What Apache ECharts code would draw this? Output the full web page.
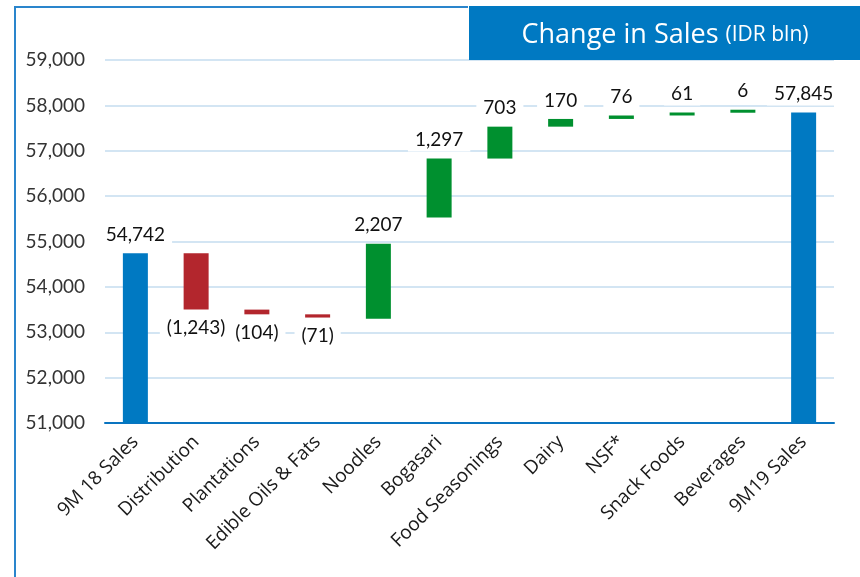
<!DOCTYPE html>
<html>
<head>
<meta charset="utf-8">
<script src="https://cdn.jsdelivr.net/npm/echarts@6/dist/echarts.min.js"></script>
<style>
  html, body { margin: 0; padding: 0; background: #fff; }
  #chart { width: 860px; height: 577px; }
</style>
</head>
<body>
<div id="chart"></div>
<script>
// categories along the x axis
var categories = ['9M 18 Sales', 'Distribution', 'Plantations', 'Edible Oils & Fats', 'Noodles',
	'Bogasari', 'Food Seasonings', 'Dairy', 'NSF*', 'Snack Foods', 'Beverages', '9M19 Sales'];
// value shown in each label (IDR bln)
var changes = [54742, -1243, -104, -71, 2207, 1297, 703, 170, 76, 61, 6, 57845];
// floating bar bottom and top
var barBottom = [0, 53499, 53395, 53324, 53300, 55531, 56828, 57531, 57701, 57777, 57838, 0];
var barTop = [54742, 54742, 53499, 53395, 54950, 56828, 57531, 57701, 57777, 57838, 57844, 57845];
// kind of each bar: total, up or down
var barKind = ['total', 'down', 'down', 'down', 'up', 'up', 'up', 'up', 'up', 'up', 'up', 'total'];
// y axis range
var yMin = 51000, yMax = 59000, yStep = 1000;

var colors = { total: '#0079c2', down: '#b3262d', up: '#00902f' };
var font = 'Lato';

function fmt(v) {
	var s = Math.abs(v).toString().replace(/\B(?=(\d{3})+(?!\d))/g, ',');
	return v < 0 ? '(' + s + ')' : s;
}

var baseData = barBottom.map(function (b) { return b; });
var deltaData = barTop.map(function (t, i) {
	var k = barKind[i];
	return {
		value: t - barBottom[i],
		itemStyle: { color: colors[k] },
		label: { position: k === 'down' ? 'bottom' : 'top' }
	};
});

var myChart = echarts.init(document.getElementById('chart'));
var option = {
	animation: false,
	textStyle: { fontFamily: font },
	grid: { left: 105, right: 26, top: 60, bottom: 154 },
	xAxis: {
		type: 'category',
		data: categories,
		axisTick: { show: false },
		axisLine: { lineStyle: { color: '#0a74c0', width: 2 } },
		axisLabel: {
			interval: 0,
			rotate: 45,
			margin: 16,
			color: '#1a1a1a',
			fontSize: 19,
			fontFamily: 'Open Sans'
		}
	},
	yAxis: {
		type: 'value',
		min: yMin,
		max: yMax,
		interval: yStep,
		axisLine: { show: false },
		axisTick: { show: false },
		axisLabel: {
			margin: 20,
			color: '#333',
			fontSize: 19,
			fontFamily: font,
			formatter: function (v) { return fmt(v); }
		},
		splitLine: { lineStyle: { color: '#d3e5f3', width: 2 } }
	},
	series: [
		{
			name: 'base',
			type: 'bar',
			stack: 'w',
			barWidth: 25,
			silent: true,
			itemStyle: { color: 'transparent' },
			data: baseData
		},
		{
			name: 'change',
			type: 'bar',
			stack: 'w',
			barWidth: 25,
			barMinHeight: 3,
			label: {
				show: true,
				distance: 7,
				color: '#111',
				fontSize: 19,
				fontFamily: font,
				backgroundColor: '#fff',
				padding: [2, 7],
				formatter: function (p) { return fmt(changes[p.dataIndex]); }
			},
			data: deltaData
		}
	],
	graphic: [
		{
			type: 'polyline',
			shape: { points: [[15, 577], [15, 7], [468, 7]] },
			style: { stroke: '#2a85cc', lineWidth: 2, fill: null },
			z: 10
		},
		{
			type: 'rect',
			shape: { x: 469, y: 6, width: 391, height: 54 },
			style: { fill: '#0079c2' },
			z: 10
		},
		{
			type: 'text',
			x: 665,
			y: 35,
			z: 11,
			style: {
				text: '{a|Change in Sales }{b|(IDR bln)}',
				align: 'center',
				verticalAlign: 'middle',
				rich: {
					a: { fontSize: 27, fill: '#fff', fontFamily: 'Open Sans' },
					b: { fontSize: 21, fill: '#fff', fontFamily: 'Open Sans' }
				}
			}
		}
	]
};
myChart.setOption(option);
</script>
</body>
</html>
